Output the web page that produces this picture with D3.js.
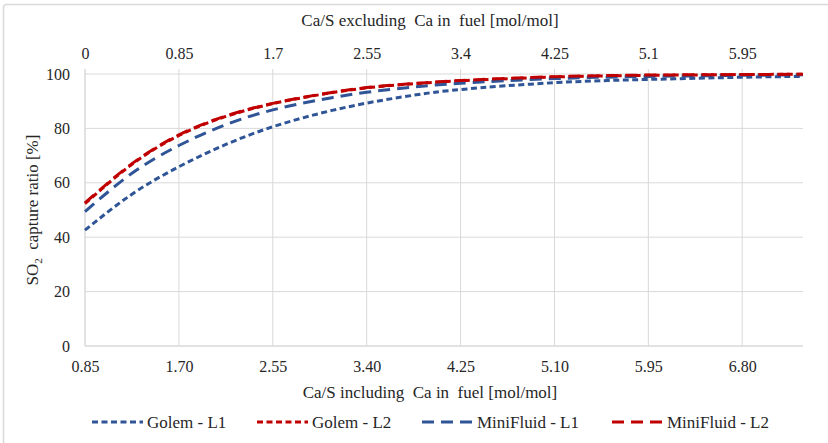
<!DOCTYPE html>
<html>
<head>
<meta charset="utf-8">
<script src="https://cdn.jsdelivr.net/npm/d3@7"></script>
<style>
  body { margin: 0; background: #fff; }
  svg text { font-family: "Liberation Serif", "Times New Roman", serif; fill: #262626; }
</style>
</head>
<body>
<svg id="chart" width="828" height="443"></svg>
<script>
// Ca/S including Ca in fuel (bottom axis); top axis is the same minus 0.85
const caS = [0.85, 1.275, 1.70, 2.125, 2.55, 2.975, 3.40, 3.825, 4.25, 5.10, 5.95, 6.80, 7.35];
const golemL1 = [42.6, 55.8, 65.9, 74.1, 80.6, 85.5, 89.3, 92.2, 94.3, 96.8, 98.0, 98.8, 99.1];
const golemL2 = [52.3, 66.8, 77.4, 84.4, 89.1, 92.4, 94.9, 96.4, 97.5, 98.9, 99.5, 99.8, 99.9];
const miniL1  = [49.4, 63.5, 73.7, 81.4, 86.8, 90.5, 93.3, 95.2, 96.6, 98.3, 99.1, 99.5, 99.7];
const miniL2  = [52.6, 67.0, 77.6, 84.6, 89.2, 92.5, 95.0, 96.5, 97.6, 99.0, 99.6, 99.8, 99.9];

const bottomTicks = [0.85, 1.70, 2.55, 3.40, 4.25, 5.10, 5.95, 6.80];
const topTicks = [0, 0.85, 1.7, 2.55, 3.4, 4.25, 5.1, 5.95];
const yTicks = [0, 20, 40, 60, 80, 100];

const seriesNames = ['Golem - L1', 'Golem - L2', 'MiniFluid - L1', 'MiniFluid - L2'];

const SERIES = [
  { name: seriesNames[0], values: golemL1, color: '#2f5597', dash: '6,3.5' },
  { name: seriesNames[1], values: golemL2, color: '#c00000', dash: '6,3.5' },
  { name: seriesNames[2], values: miniL1,  color: '#2f5597', dash: '12,7' },
  { name: seriesNames[3], values: miniL2,  color: '#c00000', dash: '12,7' },
];

const FONT = '"Liberation Serif", "Times New Roman", serif';
const svg = d3.select('#chart');
const M = { left: 85, right: 803, top: 74, bottom: 346 };

// chart frame
svg.append('rect')
  .attr('x', 3.5).attr('y', 4.5).attr('width', 840).attr('height', 460)
  .attr('rx', 3).attr('fill', 'none').attr('stroke', '#d9d9d9').attr('stroke-width', 1.5);

const x = d3.scaleLinear().domain([0.85, 7.35]).range([M.left, M.right]);
const xTop = d3.scaleLinear().domain([0, 6.5]).range([M.left, M.right]);
const y = d3.scaleLinear().domain([0, 100]).range([M.bottom, M.top]);

// gridlines
svg.append('g').selectAll('line').data(yTicks.filter(d => d > 0)).join('line')
  .attr('x1', M.left).attr('x2', M.right)
  .attr('y1', d => y(d)).attr('y2', d => y(d))
  .attr('stroke', '#d9d9d9').attr('stroke-width', 1);

svg.append('g').selectAll('line').data(bottomTicks.slice(1)).join('line')
  .attr('x1', d => x(d)).attr('x2', d => x(d))
  .attr('y1', M.top - 5).attr('y2', M.bottom)
  .attr('stroke', '#d9d9d9').attr('stroke-width', 1);

// axis lines
svg.append('line').attr('x1', M.left).attr('x2', M.left).attr('y1', M.top - 5).attr('y2', M.bottom)
  .attr('stroke', '#d9d9d9').attr('stroke-width', 1.5);
svg.append('line').attr('x1', M.left).attr('x2', M.right).attr('y1', M.bottom).attr('y2', M.bottom)
  .attr('stroke', '#d9d9d9').attr('stroke-width', 1.5);

// axes (labels only, lines drawn above)
const fmt2 = d3.format('.2f');
const bottomAxis = svg.append('g').attr('transform', `translate(0,${M.bottom})`)
  .call(d3.axisBottom(x).tickValues(bottomTicks).tickFormat(fmt2).tickSize(0).tickPadding(15));
const topAxis = svg.append('g').attr('transform', `translate(0,${M.top})`)
  .call(d3.axisTop(xTop).tickValues(topTicks).tickFormat(d => String(d)).tickSize(0).tickPadding(15));
const leftAxis = svg.append('g').attr('transform', `translate(${M.left},0)`)
  .call(d3.axisLeft(y).tickValues(yTicks).tickSize(0).tickPadding(15));

[bottomAxis, topAxis, leftAxis].forEach(g => {
  g.attr('font-family', FONT).attr('font-size', 16);
  g.select('.domain').remove();
  g.selectAll('text').attr('font-size', '16px').attr('fill', '#262626')
    .attr('font-family', FONT);
});

// series lines
const line = d3.line().x((d, i) => x(caS[i])).y(d => y(d)).curve(d3.curveNatural);
svg.append('g').selectAll('path').data(SERIES).join('path')
  .attr('d', d => line(d.values))
  .attr('fill', 'none')
  .attr('stroke', d => d.color)
  .attr('stroke-width', 3)
  .attr('stroke-dasharray', d => d.dash);

// axis titles
const midX = 430;
svg.append('text').attr('x', midX).attr('y', 26).attr('text-anchor', 'middle')
  .attr('font-family', FONT).attr('font-size', '17px').attr('xml:space', 'preserve')
  .text('Ca/S excluding  Ca in  fuel [mol/mol]');
svg.append('text').attr('x', midX).attr('y', 398).attr('text-anchor', 'middle')
  .attr('font-family', FONT).attr('font-size', '17px').attr('xml:space', 'preserve')
  .text('Ca/S including  Ca in  fuel [mol/mol]');

const yl = svg.append('text')
  .attr('transform', `translate(38,${(M.top + M.bottom) / 2}) rotate(-90)`)
  .attr('text-anchor', 'middle').attr('font-family', FONT).attr('font-size', '17px')
  .attr('xml:space', 'preserve');
yl.append('tspan').text('SO');
yl.append('tspan').attr('font-size', '11px').attr('dy', 4).text('2');
yl.append('tspan').attr('dy', -4).text('  capture ratio [%]');

// legend
const legendX = [92, 257, 422, 612];
const lg = svg.append('g').selectAll('g').data(SERIES).join('g')
  .attr('transform', (d, i) => `translate(${legendX[i]},422)`);
lg.append('line').attr('x1', 0).attr('x2', 51).attr('y1', 0).attr('y2', 0)
  .attr('stroke', d => d.color).attr('stroke-width', 3)
  .attr('stroke-dasharray', d => d.dash);
lg.append('text').attr('x', 55).attr('y', 6).attr('font-family', FONT)
  .attr('font-size', '17px').text(d => d.name);
</script>
</body>
</html>
